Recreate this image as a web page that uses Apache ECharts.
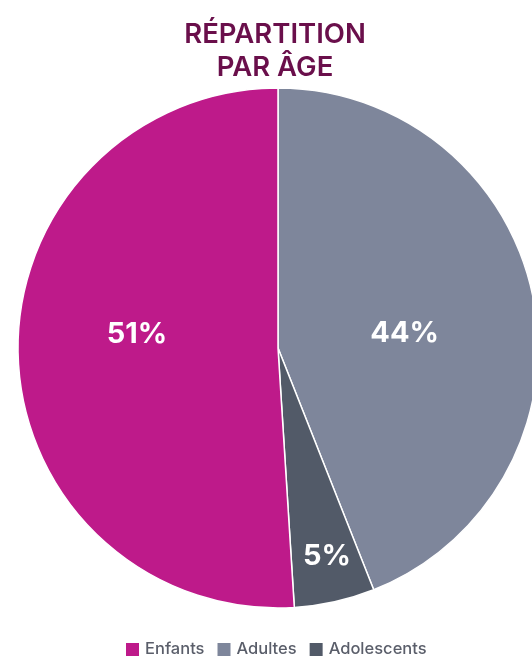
<!DOCTYPE html>
<html>
<head>
<meta charset="utf-8">
<script src="https://cdn.jsdelivr.net/npm/echarts@6/dist/echarts.min.js"></script>
<style>
  html, body { margin: 0; padding: 0; background: #fff; }
  #chart { width: 532px; height: 656px; }
</style>
</head>
<body>
<div id="chart"></div>
<script>
// données
var categories = ['Adultes', 'Adolescents', 'Enfants'];
var values = [44, 5, 51];
var legendOrder = ['Enfants', 'Adultes', 'Adolescents'];
var colors = ['#7e869b', '#525a68', '#be1a8a'];
// décalage des étiquettes (pour coller à la maquette)
var labelOffsets = [[-4, 10], [20, 78], [-8, -18]];

var chart = echarts.init(document.getElementById('chart'));

var data = categories.map(function (name, i) {
  return {
    name: name,
    value: values[i],
    itemStyle: { color: colors[i] },
    label: { offset: labelOffsets[i] }
  };
});

var option = {
  animation: false,
  title: {
    text: 'RÉPARTITION\nPAR ÂGE',
    left: 270,
    top: 13,
    textAlign: 'center',
    textStyle: {
      color: '#6a0f4b',
      fontFamily: 'Inter',
      fontWeight: 600,
      fontSize: 27.5,
      lineHeight: 33
    }
  },
  legend: {
    data: legendOrder,
    top: 636,
    left: 119,
    icon: 'rect',
    itemWidth: 15,
    itemHeight: 15,
    itemGap: 11,
    textStyle: {
      color: '#5a5e6a',
      fontFamily: 'Inter',
      fontWeight: 500,
      fontSize: 16.5
    }
  },
  series: [{
    type: 'pie',
    center: [278, 348],
    radius: 260,
    startAngle: 90,
    clockwise: true,
    avoidLabelOverlap: false,
    itemStyle: { borderColor: '#fff', borderWidth: 1.5 },
    label: {
      show: true,
      position: 'inside',
      formatter: '{c}%',
      color: '#fff',
      fontFamily: 'Inter',
      fontWeight: 'bold',
      fontSize: 29
    },
    labelLine: { show: false },
    emphasis: { disabled: true },
    data: data
  }]
};

chart.setOption(option);
</script>
</body>
</html>
